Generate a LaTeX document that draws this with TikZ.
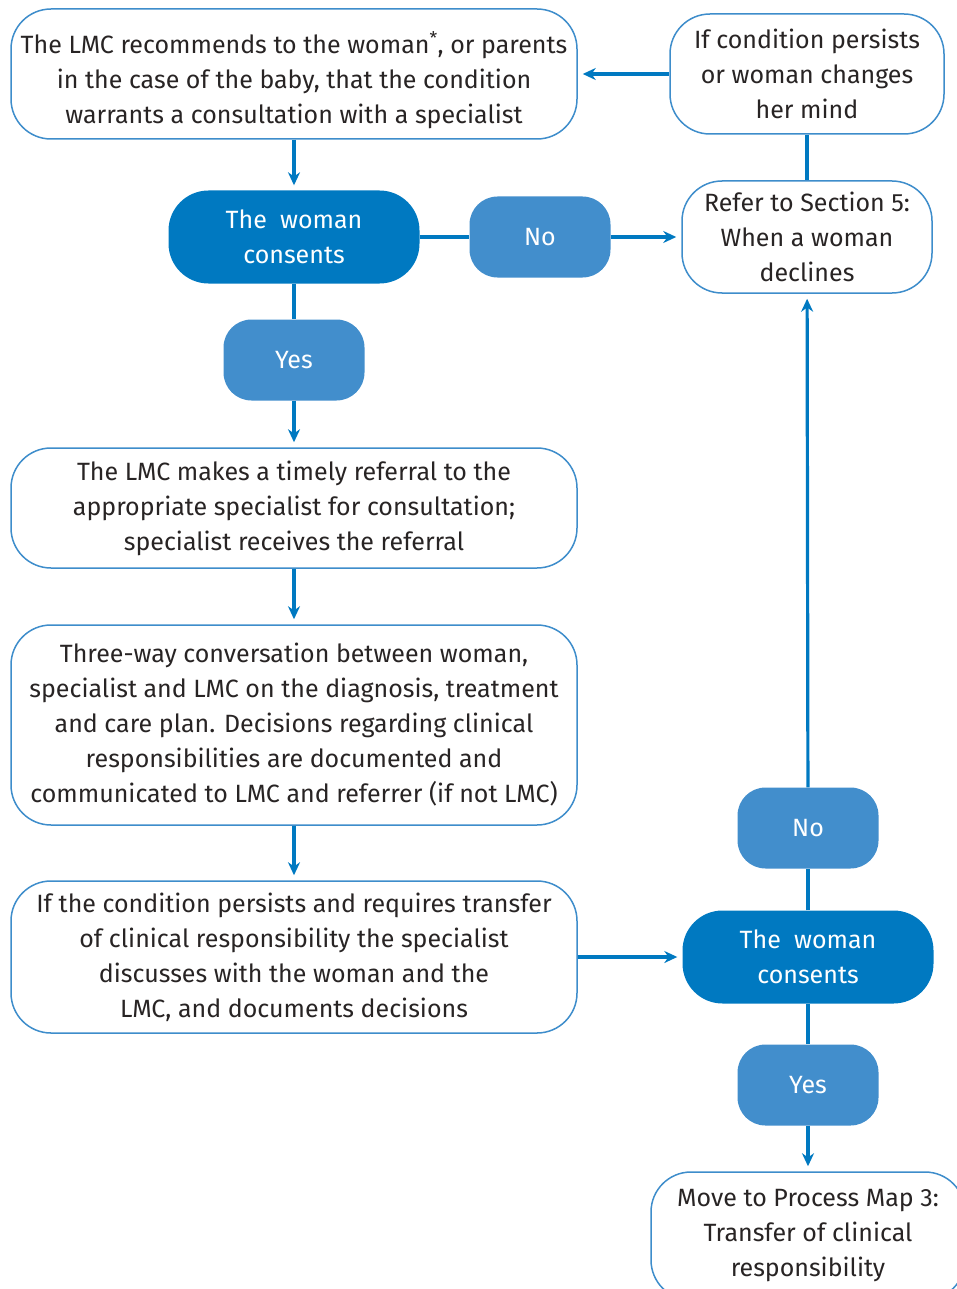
\documentclass[tikz,border=0pt]{standalone}
\usepackage{fontspec}
\setmainfont{Fira Sans}
\usepackage{xcolor}
\usetikzlibrary{arrows.meta}

\definecolor{mapblue}{RGB}{0,121,193}
\definecolor{answerblue}{RGB}{66,142,204}
\definecolor{edgeblue}{RGB}{62,141,203}
\definecolor{textgray}{RGB}{40,36,36}

\tikzset{
  stepnote/.style={draw=edgeblue, line width=1.5pt, fill=white, rounded corners=40pt,
    align=center, text=textgray, inner sep=0pt, font=\fontsize{25}{35}\selectfont},
  consent/.style={fill=mapblue, rounded corners=40pt, align=center, text=white,
    inner sep=0pt, minimum width=251, minimum height=93, font=\fontsize{25}{35}\selectfont},
  answer/.style={fill=answerblue, rounded corners=28pt, text=white, inner sep=0pt,
    minimum width=141, minimum height=81, font=\fontsize{25}{35}\selectfont},
  link/.style={draw=mapblue, line width=3.2pt},
  flow/.style={link, -{Stealth[length=13pt,width=12pt]}, shorten >=5pt}
}

\begin{document}
\begin{tikzpicture}[x=1pt, y=-1pt]

    \useasboundingbox (0,0) rectangle (956,1289);

    % linke Spalte
    \node (recommend) at (294,74) [stepnote, minimum width=566, minimum height=130]
      {\rule{0pt}{34pt}The LMC recommends to the woman\smash{\textsuperscript{*}}, or parents\\in the case of the baby, that the condition\\warrants a consultation with a specialist};
    \node (consent1) at (294,237) [consent] {The~~woman\\consents};
    \node (yes1) at (294,360) [answer] {Yes};
    \node (referral) at (294,508) [stepnote, minimum width=566, minimum height=120]
      {The LMC makes a timely referral to the\\appropriate specialist for consultation;\\specialist receives the referral};
    \node (threeway) at (294,725) [stepnote, minimum width=566, minimum height=200]
      {Three-way conversation between woman,\\specialist and LMC on the diagnosis, treatment\\and care plan. Decisions regarding clinical\\responsibilities are documented and\\communicated to LMC and referrer (if not LMC)};
    \node (persists) at (294,957) [stepnote, minimum width=566, minimum height=152]
      {If the condition persists and requires transfer\\of clinical responsibility the specialist\\discusses with the woman and the\\LMC, and documents decisions};

    % rechte Spalte
    \node (mind) at (807,74) [stepnote, minimum width=274, minimum height=120]
      {If condition persists\\or woman changes\\her mind};
    \node (no1) at (540,237) [answer] {No};
    \node (declines) at (807,237) [stepnote, minimum width=250, minimum height=112]
      {Refer to Section 5:\\When a woman\\declines};
    \node (no2) at (808,828) [answer] {No};
    \node (consent2) at (808,957) [consent] {The~~woman\\consents};
    \node (yes2) at (808,1085) [answer] {Yes};
    \node (transfer) at (808,1236) [stepnote, minimum width=314, minimum height=128]
      {Move to Process Map 3:\\Transfer of clinical\\responsibility};

    % Verbindungen
    \draw[flow] (recommend) -- (consent1);
    \draw[link] (consent1) -- (yes1);
    \draw[flow] (yes1) -- (referral);
    \draw[flow] (referral) -- (threeway);
    \draw[flow] (threeway) -- (persists);
    \draw[link] (consent1) -- (no1);
    \draw[flow] (no1) -- (declines);
    \draw[flow] (mind) -- (recommend);
    \draw[link] (mind) -- (declines);
    \draw[flow] (persists) -- (consent2);
    \draw[link] (consent2) -- (no2);
    \draw[flow] (no2) -- (declines);
    \draw[link] (consent2) -- (yes2);
    \draw[flow] (yes2) -- (transfer);

\end{tikzpicture}
\end{document}
